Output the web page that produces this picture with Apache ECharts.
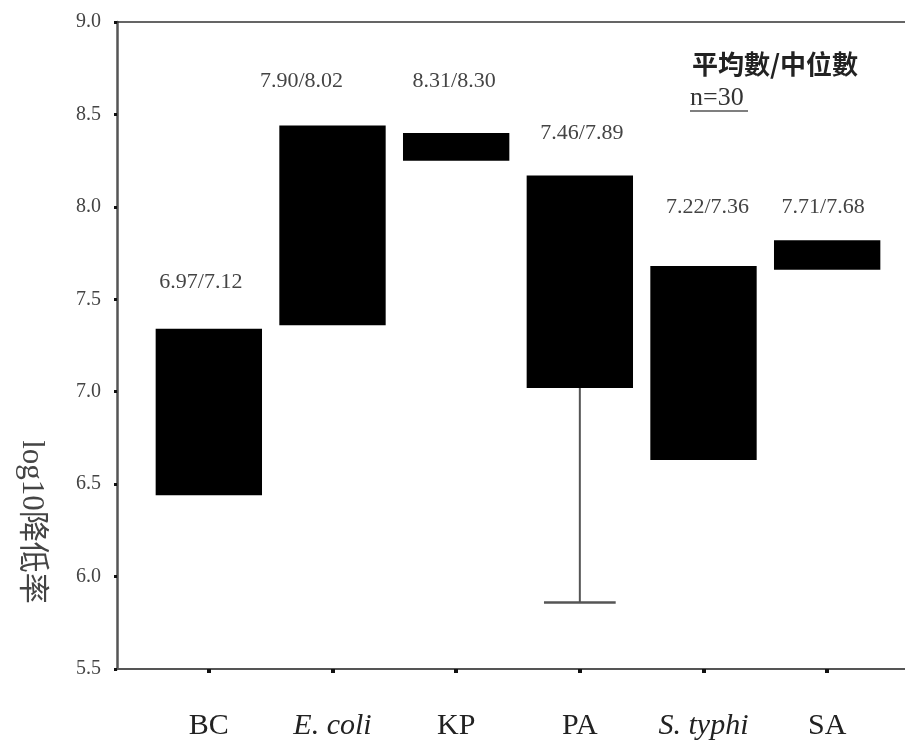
<!DOCTYPE html>
<html>
<head>
<meta charset="utf-8">
<script src="https://cdn.jsdelivr.net/npm/echarts@6/dist/echarts.min.js"></script>
<style>
html,body{margin:0;padding:0;background:#fff;}
#chart{width:905px;height:742px;}
</style>
</head>
<body>
<div id="chart"></div>
<script>
// ---- data ----
const categories = ['BC', 'E. coli', 'KP', 'PA', 'S. typhi', 'SA'];
const boxLow  = [6.44, 7.36, 8.25, 7.02, 6.63, 7.66];
const boxHigh = [7.34, 8.44, 8.40, 8.17, 7.68, 7.82];
const whiskerLow = [null, null, null, 5.86, null, null];
const meanMedian = ['6.97/7.12', '7.90/8.02', '8.31/8.30', '7.46/7.89', '7.22/7.36', '7.71/7.68'];
const labelLevel = [7.59, 8.68, 8.68, 8.40, 8.00, 8.00];
const yTicks = ['5.5', '6.0', '6.5', '7.0', '7.5', '8.0', '8.5', '9.0'];

const chart = echarts.init(document.getElementById('chart'));
const SERIF = '"Liberation Serif", "DejaVu Serif", serif';
const CJK = '"Noto Sans CJK TC", "Noto Sans CJK SC", sans-serif';
const AXIS_COLOR = '#555';
const yMin = Number(yTicks[0]), yMax = Number(yTicks[yTicks.length - 1]);

const option = {
  backgroundColor: '#fff',
  animation: false,
  grid: [
    { left: 117, right: 0, top: 22, bottom: 73 },
    { left: 147, right: 16, top: 22, bottom: 73 }
  ],
  xAxis: [
    { gridIndex: 0, type: 'value', min: 0, max: 1, position: 'bottom',
      axisLine: { show: true, lineStyle: { color: AXIS_COLOR, width: 2 } },
      axisTick: { show: false }, axisLabel: { show: false }, splitLine: { show: false } },
    { gridIndex: 0, type: 'value', min: 0, max: 1, position: 'top',
      axisLine: { show: true, lineStyle: { color: '#333', width: 1.5 } },
      axisTick: { show: false }, axisLabel: { show: false }, splitLine: { show: false } },
    { gridIndex: 1, type: 'category', data: categories, boundaryGap: true,
      axisLine: { show: false },
      axisTick: { show: true, interval: 0, alignWithLabel: true, length: 4, lineStyle: { color: '#111', width: 4 } },
      axisLabel: {
        interval: 0, margin: 42, fontFamily: SERIF, fontSize: 30, color: '#222',
        formatter: v => (v === 'E. coli' || v === 'S. typhi') ? '{i|' + v + '}' : v,
        rich: { i: { fontFamily: SERIF, fontSize: 30, fontStyle: 'italic', color: '#222' } }
      },
      splitLine: { show: false } }
  ],
  yAxis: [
    { gridIndex: 0, type: 'value', min: yMin, max: yMax, interval: 0.5,
      axisLine: { show: true, lineStyle: { color: AXIS_COLOR, width: 2.5 } },
      axisTick: { show: true, length: 3, lineStyle: { color: '#111', width: 3 } },
      axisLabel: { margin: 16, fontFamily: SERIF, fontSize: 20, color: '#444',
        formatter: v => v.toFixed(1) },
      splitLine: { show: false } },
    { gridIndex: 1, type: 'value', min: yMin, max: yMax, show: false }
  ],
  graphic: [
    { type: 'text', silent: true,
      rotation: -Math.PI / 2, x: 31, y: 522,
      style: { text: 'log10降低率', fontFamily: SERIF + ', ' + CJK, fontSize: 31,
        fill: '#444', align: 'center', verticalAlign: 'middle' } },
    { type: 'text', silent: true, x: 692, y: 64,
      style: { text: '平均數/中位數', fontFamily: CJK, fontSize: 26, fontWeight: 'bold',
        fill: '#222', align: 'left', verticalAlign: 'middle' } },
    { type: 'text', silent: true, x: 690, y: 98,
      style: { text: 'n=30', fontFamily: SERIF, fontSize: 26,
        fill: '#333', align: 'left', verticalAlign: 'middle' } },
    { type: 'line', silent: true,
      shape: { x1: 690, y1: 111, x2: 748, y2: 111 },
      style: { stroke: '#555', lineWidth: 1.5 } }
  ],
  series: [{
    type: 'custom',
    xAxisIndex: 2, yAxisIndex: 1,
    data: categories.map((c, i) => [i, boxLow[i], boxHigh[i]]),
    renderItem: function (params, api) {
      const idx = params.dataIndex;
      const lo = api.coord([idx, boxLow[idx]]);
      const hi = api.coord([idx, boxHigh[idx]]);
      const band = api.size([1, 0])[0];
      const w = band * 0.86;
      const children = [];
      if (whiskerLow[idx] != null) {
        const wl = api.coord([idx, whiskerLow[idx]]);
        children.push({ type: 'line', shape: { x1: lo[0], y1: lo[1], x2: wl[0], y2: wl[1] },
          style: { stroke: '#555', lineWidth: 2 } });
        const cap = band * 0.29;
        children.push({ type: 'line', shape: { x1: wl[0] - cap, y1: wl[1], x2: wl[0] + cap, y2: wl[1] },
          style: { stroke: '#555', lineWidth: 2.5 } });
      }
      children.push({ type: 'rect',
        shape: { x: hi[0] - w / 2, y: hi[1], width: w, height: lo[1] - hi[1] },
        style: { fill: '#000' } });
      const shift = { 0: -8, 1: -31, 2: -2, 3: 2, 4: 4, 5: -4 };
      const lp = api.coord([idx, labelLevel[idx]]);
      children.push({ type: 'text',
        x: lp[0] + (shift[idx] || 0), y: lp[1],
        style: { text: meanMedian[idx], fontFamily: SERIF, fontSize: 22, fill: '#444',
          align: 'center', verticalAlign: 'middle' } });
      return { type: 'group', children: children };
    }
  }]
};
chart.setOption(option);
</script>
</body>
</html>
